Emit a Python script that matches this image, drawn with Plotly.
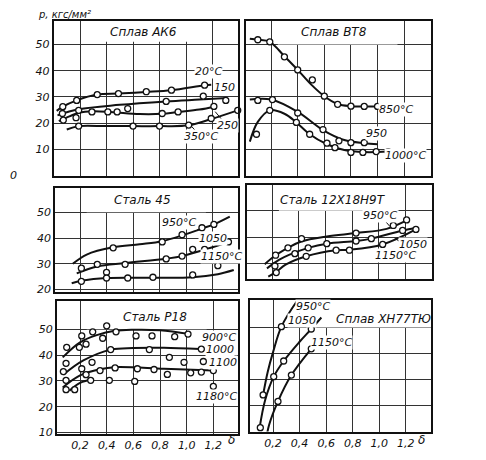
import plotly.graph_objects as go

W, H = 486, 460
PAD = 8                      # browser body margin around the plot div
FW, FH = W - PAD, H - PAD    # figure size

# ── Data (δ, p in kgf/mm²) ─────────────────────────────────────────────────
# Сплав АК6
ak6_20_line = [(0.024, 24.7), (0.07, 26.3), (0.175, 28.7), (0.33, 30.9), (0.49, 31.3),
               (0.70, 31.9), (0.89, 32.6), (1.14, 34.5), (1.19, 34.7)]
ak6_20_pts = [(0.07, 26.3), (0.175, 28.7), (0.33, 30.9), (0.49, 31.3), (0.70, 32.0),
              (0.89, 32.6), (1.14, 34.5)]
ak6_150_line = [(0.03, 23.0), (0.19, 25.3), (0.5, 27.0), (0.85, 28.3), (1.10, 29.0), (1.31, 29.6)]
ak6_150_pts = [(0.85, 28.3), (1.13, 30.3), (1.30, 28.7)]
ak6_250_line = [(0.04, 20.8), (0.12, 22.6), (0.19, 24.0), (0.30, 24.6), (0.45, 24.2),
                (0.65, 23.5), (0.82, 23.6), (0.94, 24.3), (1.10, 25.2), (1.22, 26.4)]
ak6_250_pts = [(0.067, 23.7), (0.074, 21.2), (0.17, 22.1), (0.19, 24.9), (0.29, 24.3),
               (0.41, 24.3), (0.48, 24.3), (0.56, 25.6), (0.82, 23.7), (0.94, 24.3), (1.21, 26.4)]
ak6_350_line = [(0.10, 17.6), (0.19, 18.9), (0.40, 18.9), (0.60, 18.9), (0.80, 18.9),
                (1.02, 19.2), (1.19, 21.6), (1.39, 24.9)]
ak6_350_pts = [(0.19, 18.9), (0.60, 18.9), (0.80, 18.9), (1.02, 19.3), (1.19, 21.8), (1.39, 24.9)]

# Сплав ВТ8
vt8_850_line = [(0.04, 52.2), (0.10, 51.8), (0.19, 51.0), (0.30, 45.5), (0.40, 40.3),
                (0.50, 34.8), (0.60, 30.3), (0.70, 27.3), (0.80, 26.5), (1.00, 26.4)]
vt8_850_pts = [(0.10, 51.8), (0.19, 51.0), (0.30, 45.3), (0.40, 40.3), (0.51, 36.5),
               (0.60, 30.3), (0.70, 27.2), (0.80, 26.5), (0.90, 26.4), (1.00, 26.4)]
vt8_950_line = [(0.04, 29.0), (0.20, 29.0), (0.40, 24.3), (0.59, 17.4), (0.75, 13.6),
                (0.90, 12.4), (1.00, 12.0)]
vt8_950_pts = [(0.10, 28.7), (0.21, 29.0), (0.40, 23.9), (0.59, 17.6), (0.71, 13.3),
               (0.80, 12.6), (0.90, 12.6)]
vt8_1000_line = [(0.04, 13.0), (0.10, 20.5), (0.19, 24.9), (0.30, 23.6), (0.39, 20.3),
                 (0.49, 15.8), (0.62, 12.0), (0.75, 9.8), (0.90, 9.0), (1.08, 9.2)]
vt8_1000_pts = [(0.09, 15.8), (0.19, 24.9), (0.39, 20.3), (0.49, 15.8), (0.62, 12.4),
                (0.68, 10.7), (0.80, 8.9), (0.89, 8.9), (0.99, 9.2), (1.08, 9.2)]

# Сталь 45
st45_950_line = [(0.145, 30.0), (0.25, 33.6), (0.45, 36.4), (0.65, 37.6), (0.82, 38.8),
                 (0.97, 41.0), (1.12, 43.7), (1.21, 45.3), (1.33, 48.3)]
st45_950_pts = [(0.45, 36.2), (0.82, 38.5), (0.97, 41.3), (1.12, 44.0), (1.21, 45.3)]
st45_1050_line = [(0.175, 26.3), (0.33, 29.0), (0.54, 30.3), (0.85, 32.0), (0.97, 33.0),
                  (1.14, 35.5), (1.32, 38.5)]
st45_1050_pts = [(0.21, 28.3), (0.33, 29.8), (0.40, 26.7), (0.54, 29.8), (0.85, 31.9),
                 (0.97, 33.0), (1.05, 35.6), (1.14, 35.6), (1.32, 38.5)]
st45_1150_line = [(0.137, 22.5), (0.21, 23.4), (0.40, 24.5), (0.75, 24.6), (1.05, 24.8),
                  (1.24, 26.0), (1.36, 27.6)]
st45_1150_pts = [(0.21, 23.2), (0.40, 24.5), (0.56, 24.5), (0.75, 24.8), (1.05, 25.7), (1.24, 29.3)]

# Сталь 12Х18Н9Т
st12_950_line = [(0.143, 29.7), (0.225, 33.1), (0.318, 35.9), (0.418, 38.3), (0.61, 40.2),
                 (0.83, 41.5), (1.06, 43.1), (1.21, 46.3)]
st12_950_pts = [(0.225, 33.1), (0.318, 35.9), (0.42, 39.4), (0.83, 41.5), (1.11, 44.4), (1.21, 46.5)]
st12_1050_line = [(0.16, 28.1), (0.25, 31.3), (0.33, 33.3), (0.47, 35.9), (0.61, 37.5),
                  (0.83, 38.5), (0.945, 39.4), (1.18, 42.5), (1.28, 43.4)]
st12_1050_pts = [(0.22, 29.0), (0.37, 33.7), (0.47, 35.9), (0.61, 37.5), (0.83, 38.5),
                 (0.945, 39.4), (1.18, 42.5)]
st12_1150_line = [(0.17, 25.0), (0.23, 26.8), (0.30, 29.5), (0.455, 32.7), (0.68, 35.0),
                  (0.78, 35.2), (1.03, 37.2), (1.28, 42.9)]
st12_1150_pts = [(0.23, 26.5), (0.455, 32.7), (0.68, 35.0), (0.78, 35.0), (1.03, 37.2), (1.28, 42.9)]

# Сталь Р18
r18_900_line = [(0.07, 39.1), (0.20, 44.9), (0.325, 47.7), (0.46, 49.4), (0.60, 49.8),
                (0.80, 49.6), (1.025, 48.1)]
r18_900_pts = [(0.10, 43.0), (0.195, 43.0), (0.213, 47.4), (0.245, 44.2), (0.295, 49.0),
               (0.37, 46.5), (0.40, 51.3), (0.47, 49.0), (0.62, 47.4), (0.74, 47.4),
               (0.91, 47.1), (1.01, 48.1)]
r18_1000_line = [(0.075, 32.4), (0.225, 37.9), (0.433, 42.1), (0.60, 42.7), (0.83, 42.8), (1.10, 42.3)]
r18_1000_pts = [(0.095, 36.8), (0.29, 37.2), (0.43, 42.1), (0.72, 42.1), (0.87, 39.1),
                (0.98, 37.2), (1.11, 42.3)]
r18_1100_line = [(0.07, 27.4), (0.20, 32.1), (0.35, 34.5), (0.46, 35.3), (0.83, 34.7), (1.20, 34.0)]
r18_1100_pts = [(0.075, 33.6), (0.095, 30.2), (0.213, 34.7), (0.245, 32.4), (0.35, 34.0),
                (0.463, 35.0), (0.63, 34.7), (0.755, 34.4), (0.855, 32.5), (1.03, 33.1),
                (1.11, 33.4), (1.20, 34.0), (1.125, 37.5)]
r18_1180_line = [(0.12, 26.2), (0.20, 29.2), (0.30, 30.6)]
r18_1180_pts = [(0.095, 26.6), (0.16, 26.6), (0.28, 30.2), (0.42, 30.2), (0.61, 29.8), (1.20, 27.9)]

# Сплав ХН77ТЮ
xn_950_line = [(0.125, 24.1), (0.16, 33.0), (0.20, 40.5), (0.263, 50.3), (0.388, 60.7)]
xn_950_pts = [(0.125, 24.1), (0.263, 50.3), (0.388, 60.7)]
xn_1050_line = [(0.099, 11.5), (0.14, 22.0), (0.205, 31.1), (0.28, 37.1), (0.40, 44.5),
                (0.488, 49.4), (0.564, 53.8)]
xn_1050_pts = [(0.104, 11.5), (0.205, 31.1), (0.28, 37.1), (0.488, 49.4)]
xn_1150_line = [(0.137, 3.9), (0.17, 12.5), (0.237, 21.6), (0.338, 31.7), (0.488, 41.8)]
xn_1150_pts = [(0.144, 6.7), (0.237, 21.6), (0.338, 31.7), (0.488, 41.8)]

x_tickvals = [0.2, 0.4, 0.6, 0.8, 1.0, 1.2]
x_ticktext = ["0,2", "0,4", "0,6", "0,8", "1,0", "1,2"]

# ── Panel layout (pixel frames in the window: left, right, top, bottom) ────
FONT = "DejaVu Sans"
panels = [
    dict(title="Сплав АК6", tpos=(0.68, 54.6), frame=(53.5, 238, 21, 178),
         xr=[0, 1.392], yr=[0, 59], yt=[10, 20, 30, 40, 50], ylab=True, xlab=False,
         blank=(0.25, 1.15, 51, 59),
         curves=[(ak6_20_line, ak6_20_pts), (ak6_150_line, ak6_150_pts),
                 (ak6_250_line, ak6_250_pts), (ak6_350_line, ak6_350_pts)],
         labels=[("20°C", 1.17, 39.8), ("150", 1.29, 33.6), ("250", 1.31, 19.0),
                 ("350°C", 1.11, 14.8)],
         leaders=[(1.22, 24.4, 1.28, 20.8), (1.04, 18.9, 1.07, 17.2)]),
    dict(title="Сплав ВТ8", tpos=(0.67, 54.6), frame=(245.7, 431, 21, 178),
         xr=[0.009, 1.402], yr=[0, 59], yt=[10, 20, 30, 40, 50], ylab=False, xlab=False,
         blank=(0.25, 1.15, 50, 59),
         curves=[(vt8_850_line, vt8_850_pts), (vt8_950_line, vt8_950_pts),
                 (vt8_1000_line, vt8_1000_pts)],
         labels=[("850°C", 1.14, 25.2), ("950", 0.99, 16.2), ("1000°C", 1.21, 7.8)],
         leaders=[]),
    dict(title="Сталь 45", tpos=(0.67, 54.6), frame=(55, 238, 190, 296),
         xr=[0.011, 1.392], yr=[19, 59.6], yt=[20, 30, 40, 50], ylab=True, xlab=False,
         blank=(0.25, 1.15, 50, 59.6),
         curves=[(st45_950_line, st45_950_pts), (st45_1050_line, st45_1050_pts),
                 (st45_1150_line, st45_1150_pts)],
         labels=[("950°C", 0.95, 46.2), ("1050", 1.20, 39.8), ("1150°C", 1.27, 32.8)],
         leaders=[]),
    dict(title="Сталь 12Х18Н9Т", tpos=(0.66, 54.2), frame=(247, 432, 187.3, 282.3),
         xr=[0.01, 1.401], yr=[24.2, 59.8], yt=[30, 40, 50], ylab=False, xlab=False,
         blank=(0.25, 1.15, 50, 59.8),
         curves=[(st12_950_line, st12_950_pts), (st12_1050_line, st12_1050_pts),
                 (st12_1150_line, st12_1150_pts)],
         labels=[("950°C", 1.01, 48.1), ("1050", 1.26, 37.1), ("1150°C", 1.13, 33.0)],
         leaders=[(1.045, 46.3, 1.085, 44.0), (1.12, 39.6, 1.17, 37.9)]),
    dict(title="Сталь Р18", tpos=(0.76, 54.6), frame=(56.7, 238, 305, 439.3),
         xr=[0.025, 1.385], yr=[9.6, 60.9], yt=[10, 20, 30, 40, 50], ylab=True, xlab=True,
         blank=(0.25, 1.15, 50, 60.9),
         curves=[(r18_900_line, r18_900_pts), (r18_1000_line, r18_1000_pts),
                 (r18_1100_line, r18_1100_pts), (r18_1180_line, r18_1180_pts)],
         labels=[("900°C", 1.24, 46.8), ("1000", 1.25, 42.0), ("1100", 1.27, 37.2),
                 ("1180°C", 1.22, 23.8)],
         leaders=[]),
    dict(title="Сплав ХН77ТЮ", tpos=(1.03, 53.4), frame=(249.7, 431, 304, 437.3),
         xr=[0.024, 1.39], yr=[10, 60.5], yt=[20, 30, 40, 50], ylab=False, xlab=True,
         blank=(0.45, 1.39, 50, 60.5),
         curves=[(xn_950_line, xn_950_pts), (xn_1050_line, xn_1050_pts),
                 (xn_1150_line, xn_1150_pts)],
         labels=[("950°C", 0.50, 58.2), ("1050", 0.42, 52.6), ("1150°C", 0.64, 44.3)],
         leaders=[]),
]


def px(x):
    return (x - PAD) / FW


def py(y):
    return 1 - (y - PAD) / FH


fig = go.Figure()
shapes, annotations = [], []
layout = {}
lab_font = dict(family=FONT, size=11, color="#111", style="italic")

for i, p in enumerate(panels, start=1):
    sfx = "" if i == 1 else str(i)
    xa, ya = "x" + sfx, "y" + sfx
    l, r, t, b = p["frame"]

    for line, pts in p["curves"]:
        fig.add_trace(go.Scatter(
            x=[q[0] for q in line], y=[q[1] for q in line],
            xaxis=xa, yaxis=ya, mode="lines",
            line=dict(color="#111", width=2, shape="spline", smoothing=1.0),
            hoverinfo="skip", showlegend=False,
        ))
        fig.add_trace(go.Scatter(
            x=[q[0] for q in pts], y=[q[1] for q in pts],
            xaxis=xa, yaxis=ya, mode="markers", cliponaxis=False,
            marker=dict(symbol="circle", size=6, color="white",
                        line=dict(color="#111", width=1.3)),
            showlegend=False,
        ))

    axis_common = dict(
        showline=True, mirror=True, linecolor="#111", linewidth=1.5,
        showgrid=True, gridcolor="#333", gridwidth=0.8, zeroline=False,
        ticks="", tickfont=lab_font,
    )
    layout["xaxis" + sfx] = dict(
        axis_common, domain=[px(l), px(r)], range=p["xr"], anchor=ya,
        tickvals=x_tickvals, ticktext=x_ticktext, showticklabels=p["xlab"],
    )
    layout["yaxis" + sfx] = dict(
        axis_common, domain=[py(b), py(t)], range=p["yr"], anchor=xa,
        tickvals=p["yt"], showticklabels=p["ylab"],
    )

    # blank out grid behind the panel title
    x0, x1, y0, y1 = p["blank"]
    shapes.append(dict(type="rect", xref=xa, yref=ya, x0=x0, x1=x1, y0=y0, y1=y1,
                       fillcolor="white", line=dict(width=0), layer="between"))
    annotations.append(dict(text=p["title"], xref=xa, yref=ya, x=p["tpos"][0], y=p["tpos"][1],
                            xanchor="center", yanchor="middle", showarrow=False,
                            font=dict(lab_font, size=12)))
    for txt, lx, ly in p["labels"]:
        annotations.append(dict(text=txt, xref=xa, yref=ya, x=lx, y=ly, showarrow=False,
                                xanchor="center", yanchor="middle",
                                bgcolor="white", borderpad=0, font=lab_font))
    for x0, y0, x1, y1 in p["leaders"]:
        shapes.append(dict(type="line", xref=xa, yref=ya, x0=x0, y0=y0, x1=x1, y1=y1,
                           line=dict(color="#111", width=1)))

# axis captions
captions = [("p, кгс/мм²", 64, 15, "center", 10), ("0", PAD, 178, "left", 11),
            ("δ", 231, 446, "center", 12), ("δ", 421, 446, "center", 12)]
for txt, cx, cy, anchor, size in captions:
    annotations.append(dict(text=txt, xref="paper", yref="paper", x=px(cx), y=py(cy),
                            xanchor=anchor, yanchor="middle", showarrow=False,
                            font=dict(lab_font, size=size)))

fig.update_layout(
    width=FW, height=FH,
    margin=dict(l=0, r=0, t=0, b=0),
    paper_bgcolor="white", plot_bgcolor="white",
    showlegend=False,
    shapes=shapes, annotations=annotations,
    **layout,
)

fig.write_html("out.html")
